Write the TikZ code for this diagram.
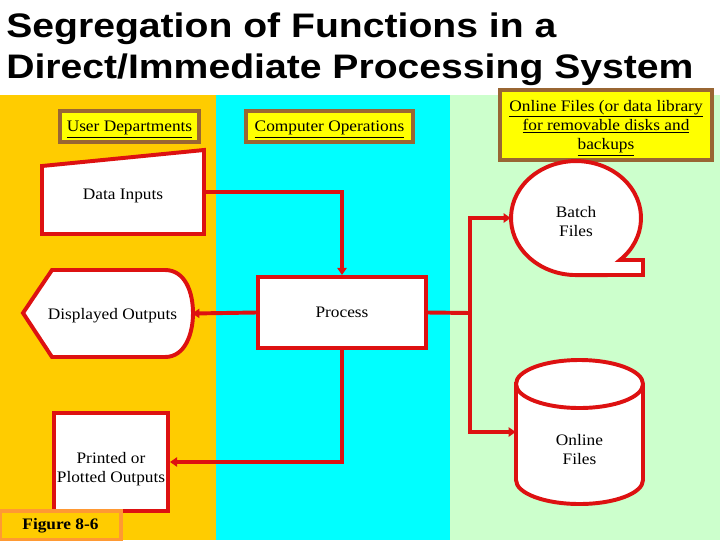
\documentclass[tikz,border=0pt]{standalone}
\usepackage{fontspec}
\setmainfont[FakeStretch=1.08]{Liberation Serif}
\newfontfamily\titlefont[FakeStretch=1.15]{Liberation Sans}
\usetikzlibrary{arrows.meta}

\definecolor{userbg}{HTML}{FFCC00}
\definecolor{opsbg}{HTML}{00FFFF}
\definecolor{filebg}{HTML}{CCFFCC}
\definecolor{flowred}{HTML}{DD1111}
\definecolor{headfill}{HTML}{FFFF00}
\definecolor{headline}{HTML}{996633}
\definecolor{figline}{HTML}{FF9933}

\begin{document}
\begin{tikzpicture}[x=0.025cm, y=-0.025cm,
  every node/.style={font=\fontsize{11.4}{13.5}\selectfont, align=center},
  head/.style={draw=headline, line width=2.4pt, fill=headfill, inner sep=0pt, text depth=0pt},
  box/.style={draw=flowred, line width=2.8pt, fill=white, inner sep=0pt},
  outline/.style={draw=flowred, line width=2.8pt, fill=white},
  flow/.style={draw=flowred, line width=2.8pt, -{Triangle[length=5pt,width=6.5pt]}}]
\useasboundingbox (0,0) rectangle (720,540);
% swim lanes
\fill[userbg] (0,95) rectangle (216,540);
\fill[opsbg] (216,95) rectangle (450,540);
\fill[filebg] (450,95) rectangle (720,540);
\node[anchor=north west, inner sep=0pt, align=left, font=\titlefont\bfseries\fontsize{24.2}{28.5}\selectfont] (title) at (6,13) {Segregation of Functions in a\\Direct/Immediate Processing System};
% lane headings
\node[head, minimum width=3.475cm, minimum height=0.775cm] (dept) at (129.5,126.5) {\underline{User Departments}};
\node[head, minimum width=4.175cm, minimum height=0.775cm] (ops) at (329.5,126.5) {\underline{Computer Operations}};
\node[head, minimum width=5.3cm, minimum height=1.75cm, font=\fontsize{11.4}{13.8}\selectfont] (lib) at (606,125) {\underline{Online Files (or data library}\\\underline{for removable disks and}\\\underline{backups}};
% shapes
\filldraw[outline] (42,166) -- (204,150) -- (204,234) -- (42,234) -- cycle;
\node[minimum width=4.05cm, minimum height=2.1cm, label={[yshift=-0.1cm]center:Data Inputs}] (din) at (123,192) {};
\filldraw[outline] (23,313) -- (52,270) -- (165,270) .. controls (185,270) and (193,292) .. (193,313) .. controls (193,334) and (185,357) .. (165,357) -- (52,357) -- cycle;
\node[minimum width=3.975cm, minimum height=2.175cm, label={[yshift=-0.06cm]center:Displayed Outputs}] (dout) at (112.5,313.5) {};
\node[box, minimum width=4.2cm, minimum height=1.775cm] (proc) at (342,312.5) {Process};
\node[box, minimum width=2.85cm, minimum height=2.45cm, label={[yshift=-0.175cm]center:Printed or\\Plotted Outputs}] (prn) at (111,462) {};
\filldraw[outline] (620,260) arc[start angle=47.4, end angle=-270, x radius=65, y radius=57] -- (643,275) -- (643,260) -- cycle;
\node[minimum width=3.25cm, minimum height=2.85cm, label={[yshift=-0.1cm]center:Batch\\Files}] (batch) at (576,218) {};
\filldraw[outline] (516,384) -- (516,480) arc[start angle=180, end angle=0, x radius=63.5, y radius=24] -- (643,384) arc[start angle=0, end angle=-180, x radius=63.5, y radius=24] -- cycle;
\draw[outline, fill=none] (516,384) arc[start angle=180, end angle=0, x radius=63.5, y radius=24];
\node[minimum width=3.175cm, minimum height=3.6cm, label={[yshift=-0.43cm]center:Online\\Files}] (onl) at (579.5,432) {};
\node[draw=figline, line width=2.4pt, fill=userbg, minimum width=3.025cm, minimum height=0.725cm, font=\bfseries\fontsize{11.4}{13.5}\selectfont] (fig) at (60.5,525.5) {Figure 8-6};
% connectors
\coordinate (split) at (470,313);
\draw[flow] (din.east) -| (proc.north);
\draw[flow] (proc.west) -- (dout.east);
\draw[flow] (proc.south) |- (prn.east);
\draw[flow] (proc.east) -- (split) |- (batch.west);
\draw[flow] (split) |- (onl.west);
\end{tikzpicture}
\end{document}
